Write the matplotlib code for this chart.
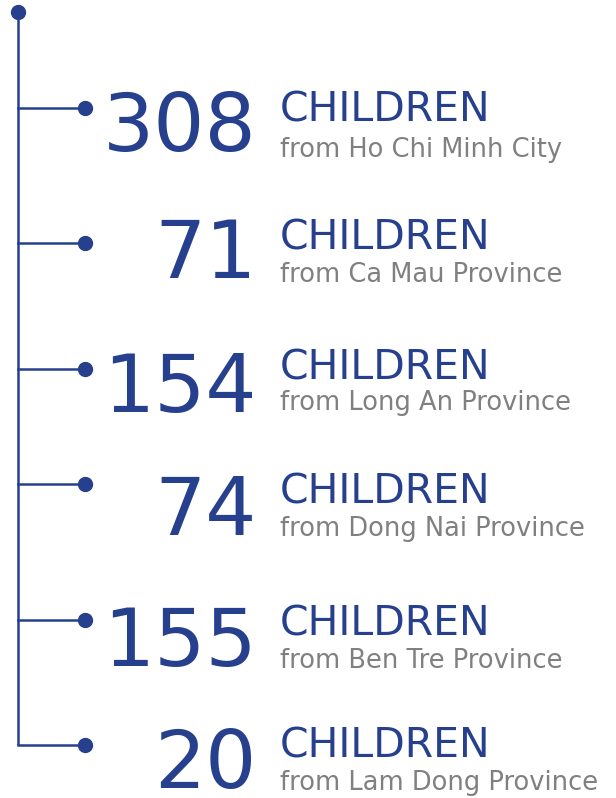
import matplotlib.pyplot as plt

counts = [308, 71, 154, 74, 155, 20]
places = ["Ho Chi Minh City", "Ca Mau Province", "Long An Province",
          "Dong Nai Province", "Ben Tre Province", "Lam Dong Province"]
unit = "CHILDREN"

# layout (pixel positions, y measured from top)
branch_y = [108, 243, 369, 484, 620, 745]
number_base = [151, 278, 412, 535, 666, 788]
label_base = [122, 250, 379, 504, 636, 758]
sub_base = [157, 282, 410, 536, 668, 790]

blue = "#26408e"
grey = "#808080"

W, H = 616, 798
fig = plt.figure(figsize=(W / 100, H / 100), dpi=100)
ax = fig.add_axes([0, 0, 1, 1])
ax.set_xlim(0, W)
ax.set_ylim(H, 0)
ax.axis("off")

# trunk
ax.plot([18, 18], [12, branch_y[-1]], color=blue, lw=1.8, solid_capstyle="butt")
ax.plot(18, 12, "o", color=blue, ms=10)

for i, n in enumerate(counts):
    y = branch_y[i]
    ax.plot([18, 85], [y, y], color=blue, lw=1.8)
    ax.plot(85, y, "o", color=blue, ms=10)

    ax.text(257, number_base[i], str(n), ha="right", va="baseline",
            fontsize=58, color=blue, family="DejaVu Sans")
    ax.text(280, label_base[i], unit, ha="left", va="baseline",
            fontsize=29.5, color=blue, family="DejaVu Sans")
    ax.text(280, sub_base[i], "from " + places[i], ha="left", va="baseline",
            fontsize=18.5, color=grey, family="DejaVu Sans")

fig.savefig("out.png", dpi=100)
